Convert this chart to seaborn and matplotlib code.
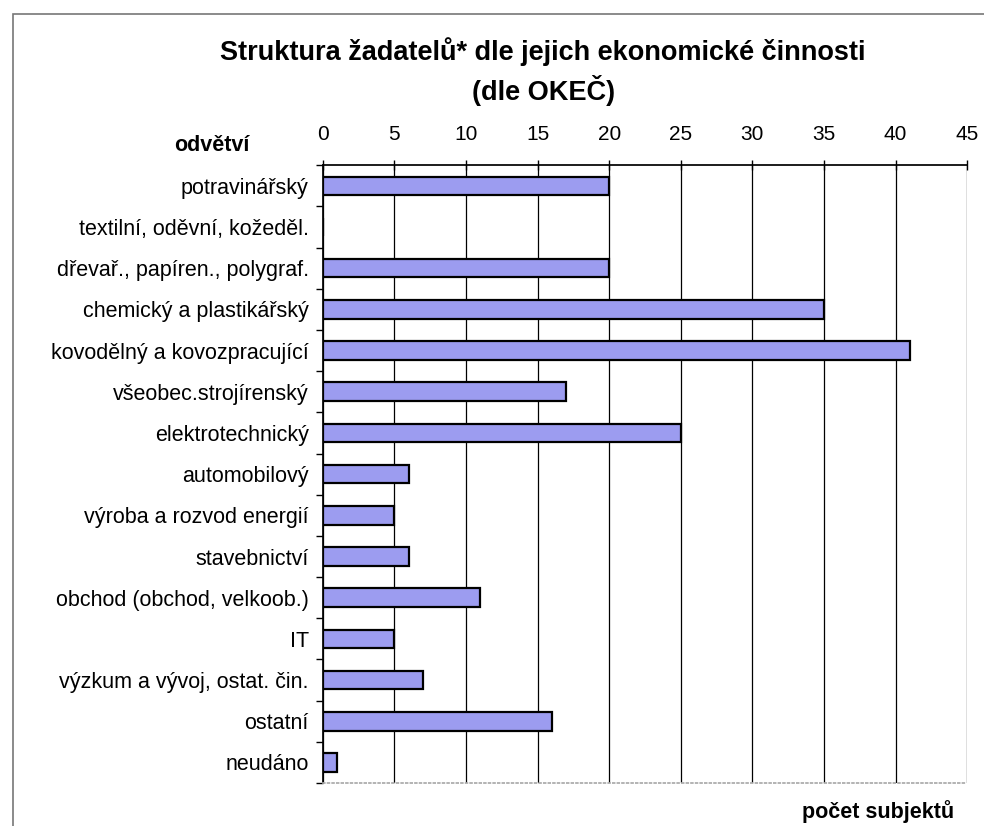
import pandas as pd
import numpy as np
import matplotlib
matplotlib.use('Agg')
import matplotlib.pyplot as plt
import seaborn as sns
from matplotlib.patches import Rectangle

# Data
odvetvi = ['potravinářský', 'textilní, oděvní, kožeděl.', 'dřevař., papíren., polygraf.',
           'chemický a plastikářský', 'kovodělný a kovozpracující', 'všeobec.strojírenský',
           'elektrotechnický', 'automobilový', 'výroba a rozvod energií', 'stavebnictví',
           'obchod (obchod, velkoob.)', 'IT', 'výzkum a vývoj, ostat. čin.', 'ostatní', 'neudáno']
pocet = [20, 0, 20, 35, 41, 17, 25, 6, 5, 6, 11, 5, 7, 16, 1]
x_ticks = [0, 5, 10, 15, 20, 25, 30, 35, 40, 45]

df = pd.DataFrame({'odvetvi': odvetvi, 'pocet': pocet})

sns.set_theme(style='white')
plt.rcParams['font.family'] = ['Liberation Sans', 'DejaVu Sans']
plt.rcParams['text.color'] = 'black'

fig = plt.figure(figsize=(9.84, 8.26), dpi=100)
ax = fig.add_axes([0.328, 0.052, 0.655, 0.748])

sns.barplot(data=df, x='pocet', y='odvetvi', orient='h', color='#9c9cf0',
            saturation=1, edgecolor='black', linewidth=1.6, width=0.45, ax=ax)

ax.set_xlim(0, 45)
ax.set_ylim(len(odvetvi) - 0.5, -0.5)
ax.set_xticks(x_ticks)
ax.xaxis.tick_top()
ax.tick_params(axis='x', direction='inout', length=7, width=1, pad=12,
               labelsize=15, colors='black')
ax.tick_params(axis='y', length=0, pad=10, labelsize=15.5, labelcolor='black')
ax.set_yticks(np.arange(-0.5, len(odvetvi)), minor=True)
ax.tick_params(axis='y', which='minor', direction='out', length=5, width=1,
               color='black', left=True)
ax.grid(axis='x', color='black', linewidth=0.9)
ax.set_axisbelow(True)
ax.set_xlabel('')
ax.set_ylabel('')

ax.spines['right'].set_visible(False)
ax.spines['top'].set_color('black')
ax.spines['left'].set_color('black')
ax.spines['bottom'].set_color('#aaaaaa')
ax.spines['bottom'].set_linestyle(':')

fig.text(0.552, 0.937, 'Struktura žadatelů* dle jejich ekonomické činnosti',
         ha='center', va='center', fontsize=19.5, fontweight='bold', color='black')
fig.text(0.552, 0.891, '(dle OKEČ)', ha='center', va='center',
         fontsize=19.5, fontweight='bold', color='black')
fig.text(0.215, 0.824, 'odvětví', ha='center', va='center',
         fontsize=15.5, fontweight='bold', color='black')
fig.text(0.892, 0.017, 'počet subjektů', ha='center', va='center',
         fontsize=15.5, fontweight='bold', color='black')

# outer chart frame
fig.patches.append(Rectangle((0.013, -0.02), 1.0, 1.003, transform=fig.transFigure,
                             fill=False, edgecolor='#777777', linewidth=1.2))

fig.savefig('out.png', dpi=100)
